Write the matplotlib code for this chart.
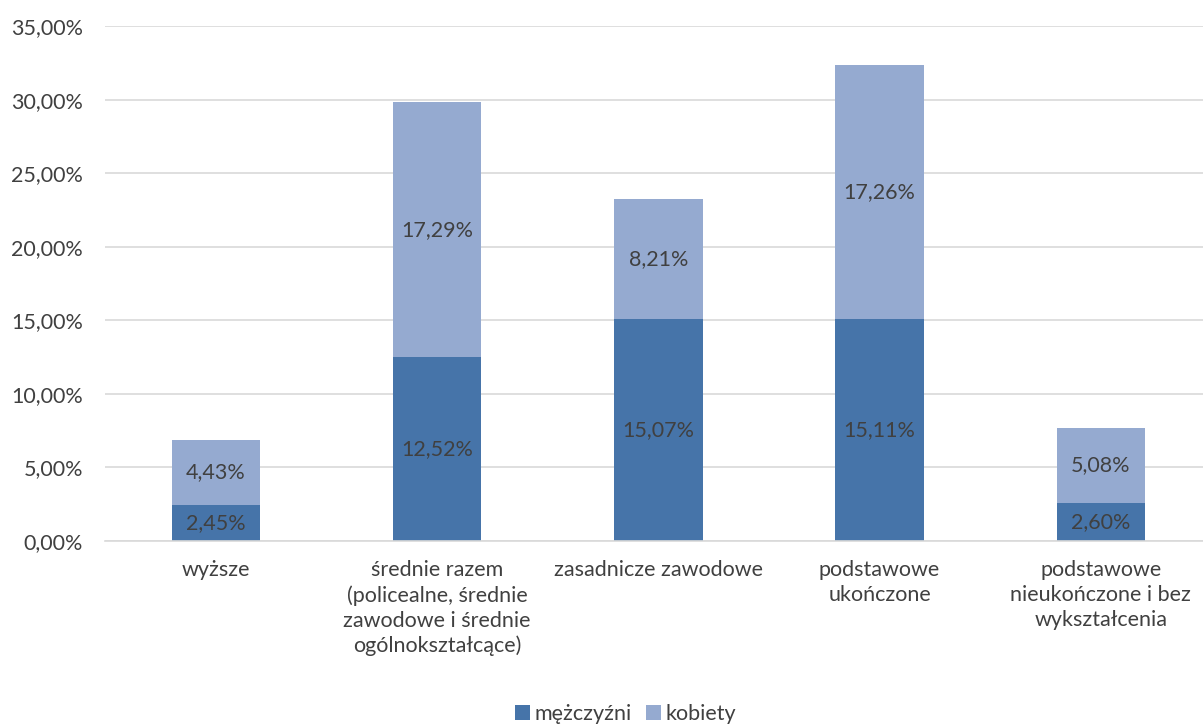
import matplotlib.pyplot as plt
import matplotlib
from matplotlib.ticker import FuncFormatter
matplotlib.rcParams['font.family'] = ['Lato', 'DejaVu Sans']
matplotlib.rcParams['font.size'] = 15.5

# dane
kategorie = ['wyższe',
             'średnie razem\n(policealne, średnie\nzawodowe i średnie\nogólnokształcące)',
             'zasadnicze zawodowe',
             'podstawowe\nukończone',
             'podstawowe\nnieukończone i bez\nwykształcenia']
mezczyzni = [2.45, 12.52, 15.07, 15.11, 2.60]
kobiety = [4.43, 17.29, 8.21, 17.26, 5.08]
yticks = [0, 5, 10, 15, 20, 25, 30, 35]

c_m = '#4674A9'
c_k = '#95AAD0'
txt = '#404040'
fs = 15.5

fig = plt.figure(figsize=(12.03, 7.25), dpi=100)
ax = fig.add_axes([0.0876, 0.2538, 0.9194, 0.7102])
x = list(range(len(kategorie)))
ax.bar(x, mezczyzni, width=0.4, color=c_m, label='mężczyźni', zorder=2)
ax.bar(x, kobiety, width=0.4, bottom=mezczyzni, color=c_k, label='kobiety', zorder=2)

def fmt(v):
    return ('%.2f' % v).replace('.', ',') + '%'

for i in x:
    ax.text(i, mezczyzni[i] / 2, fmt(mezczyzni[i]), ha='center', va='center', color=txt, fontsize=fs)
    ax.text(i, mezczyzni[i] + kobiety[i] / 2, fmt(kobiety[i]), ha='center', va='center', color=txt, fontsize=fs)

ax.set_xlim(-0.5, 4.5)
ax.set_ylim(0, 35)
ax.set_yticks(yticks)
ax.yaxis.set_major_formatter(FuncFormatter(lambda v, p: fmt(v)))
ax.set_xticks(x)
ax.set_xticklabels(kategorie, linespacing=1.3)
ax.tick_params(length=0, colors=txt, labelsize=fs)
ax.tick_params(axis='x', pad=14)
ax.tick_params(axis='y', pad=16)
ax.grid(axis='y', color='#D9D9D9', linewidth=1.2, zorder=0)
for s in ['top', 'right', 'left']:
    ax.spines[s].set_visible(False)
ax.spines['bottom'].set_color('#D9D9D9')
ax.spines['bottom'].set_linewidth(1.2)

leg = fig.legend(loc='lower center', bbox_to_anchor=(0.52, -0.025), ncol=2, frameon=False,
                 handlelength=0.7, handleheight=0.7, handletextpad=0.2, columnspacing=0.7, fontsize=fs)
for t in leg.get_texts():
    t.set_color(txt)

fig.savefig('out.png', dpi=100)
